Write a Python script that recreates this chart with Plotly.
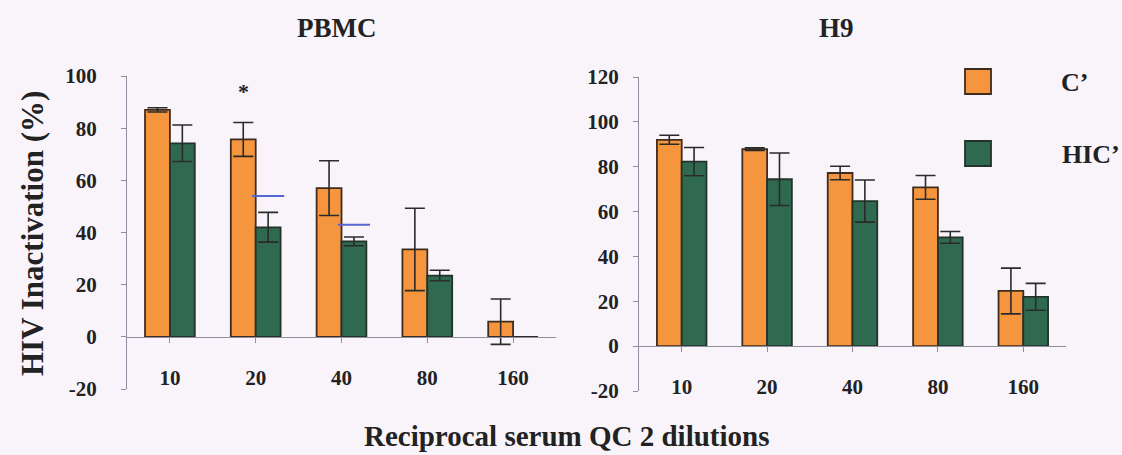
import plotly.graph_objects as go

# Reciprocal serum dilutions (categories)
dilutions = ["10", "20", "40", "80", "160"]

# PBMC: HIV inactivation (%) with standard errors
pbmc_c = [87, 75.7, 57, 33.5, 5.8]
pbmc_c_err = [0.8, 6.5, 10.5, 15.8, 8.7]
pbmc_hic = [74.2, 42, 36.6, 23.5, 0]
pbmc_hic_err = [7, 5.7, 1.7, 2, 0]

# H9: HIV inactivation (%) with standard errors
h9_c = [92, 87.8, 77.2, 70.8, 24.6]
h9_c_err = [2, 0.6, 3, 5.3, 10.2]
h9_hic = [82.3, 74.4, 64.7, 48.5, 22]
h9_hic_err = [6.3, 11.7, 9.4, 2.6, 6]

# y-axis ticks for each panel
pbmc_yticks = [-20, 0, 20, 40, 60, 80, 100]
h9_yticks = [-20, 0, 20, 40, 60, 80, 100, 120]

# Reference markers over the PBMC HIC' bars at dilutions 20 and 40
pbmc_marks_idx = [1, 2]
pbmc_marks_val = [54, 43]

# Significance marker on PBMC C' at dilution 20
star_idx = 1
star_val = 94

ORANGE = "#f5963f"
GREEN = "#2f6a50"
ORANGE_EDGE = "#3f2c1e"
GREEN_EDGE = "#23332b"
ERR = "#2a2a2a"
AXIS = "#8e8e9e"
TEXT = "#222222"
BG = "#f9f4fa"
FONT = "Liberation Serif"

BARGAP = 0.42
half_bar = (1 - BARGAP) / 4  # offset from category centre to each bar centre

xs = list(range(len(dilutions)))

fig = go.Figure()


def add_pair(c_vals, c_err, h_vals, h_err, xa, ya):
    fig.add_trace(go.Bar(
        x=xs, y=c_vals, name="C’", xaxis=xa, yaxis=ya,
        offsetgroup="c", marker=dict(color=ORANGE, line=dict(color=ORANGE_EDGE, width=1.8)),
        error_y=dict(type="data", array=c_err, visible=True, color=ERR, thickness=1.6, width=10),
        showlegend=False,
    ))
    fig.add_trace(go.Bar(
        x=xs, y=h_vals, name="HIC’", xaxis=xa, yaxis=ya,
        offsetgroup="h", marker=dict(color=GREEN, line=dict(color=GREEN_EDGE, width=1.8)),
        error_y=dict(type="data", array=h_err, visible=True, color=ERR, thickness=1.6, width=10),
        showlegend=False,
    ))


add_pair(pbmc_c, pbmc_c_err, pbmc_hic, pbmc_hic_err, "x", "y")
add_pair(h9_c, h9_c_err, h9_hic, h9_hic_err, "x2", "y2")

# short blue reference ticks above the HIC' bars
fig.add_trace(go.Scatter(
    x=[i + half_bar for i in pbmc_marks_idx], y=pbmc_marks_val,
    mode="markers", xaxis="x", yaxis="y", showlegend=False,
    marker=dict(symbol="line-ew", size=23, line=dict(color="#5566d4", width=2)),
))

# panel geometry (paper coordinates)
W, H = 1122, 455
L_DOM_X = [127 / W, 556 / W]
R_DOM_X = [639 / W, 1066 / W]
L_DOM_Y = [1 - 389 / H, 1 - 76 / H]
R_DOM_Y = [1 - 391 / H, 1 - 77 / H]
L_RANGE = [-20, 100]
R_RANGE = [-20, 120]


def zero_pos(dom, rng):
    return dom[0] + (0 - rng[0]) / (rng[1] - rng[0]) * (dom[1] - dom[0])


tickfont = dict(family=FONT, size=21, color=TEXT, weight="bold")

xaxis_common = dict(
    range=[-0.5, len(dilutions) - 0.5], tickmode="array", tickvals=xs, ticktext=dilutions,
    showline=True, linecolor=AXIS, linewidth=1, ticks="outside", ticklen=5,
    tickcolor=AXIS, showgrid=False, zeroline=False, tickfont=tickfont,
    ticklabelstandoff=17, anchor="free", automargin=False,
)
yaxis_common = dict(
    tickmode="array", showline=True, linecolor=AXIS, linewidth=1, ticks="outside", ticklen=5,
    tickcolor=AXIS, showgrid=False, zeroline=False, tickfont=tickfont, automargin=False,
)

fig.update_layout(
    width=W, height=H,
    margin=dict(l=0, r=0, t=0, b=0, pad=0, autoexpand=False),
    paper_bgcolor=BG, plot_bgcolor=BG,
    barmode="group", bargap=BARGAP, bargroupgap=0,
    xaxis=dict(domain=L_DOM_X, position=zero_pos(L_DOM_Y, L_RANGE), **xaxis_common),
    xaxis2=dict(domain=R_DOM_X, position=zero_pos(R_DOM_Y, R_RANGE), **xaxis_common),
    yaxis=dict(domain=L_DOM_Y, range=L_RANGE, anchor="x", ticklabelstandoff=20,
               tickvals=pbmc_yticks, ticktext=[str(v) for v in pbmc_yticks], **yaxis_common),
    yaxis2=dict(domain=R_DOM_Y, range=R_RANGE, anchor="x2", ticklabelstandoff=10,
                tickvals=h9_yticks, ticktext=[str(v) for v in h9_yticks], **yaxis_common),
    font=dict(family=FONT, color=TEXT),
)

bold = lambda s: f"<b>{s}</b>"


def label(text, x, y, size, **kw):
    base = dict(text=bold(text), x=x, y=y, xref="paper", yref="paper", showarrow=False,
                xanchor="center", yanchor="middle",
                font=dict(size=size, family=FONT, color=TEXT))
    base.update(kw)
    return base


annotations = [
    label("PBMC", 336 / W, 1 - 28 / H, 27),
    label("H9", 836 / W, 1 - 28 / H, 27),
    label("HIV Inactivation (%)", 33 / W, 1 - 234 / H, 31, textangle=-90),
    label("Reciprocal serum QC 2 dilutions", 566 / W, 1 - 436 / H, 29),
    label("C’", 1059 / W, 1 - 82 / H, 26, xanchor="left"),
    label("HIC’", 1060 / W, 1 - 154 / H, 26, xanchor="left"),
    dict(text=bold("*"), x=star_idx - half_bar, y=star_val, xref="x", yref="y",
         xanchor="center", yanchor="middle", showarrow=False,
         font=dict(size=22, family=FONT, color=TEXT)),
]
fig.update_layout(annotations=annotations)

# legend swatches
shapes = [
    dict(type="rect", xref="paper", yref="paper", x0=965 / W, x1=991 / W,
         y0=1 - 94 / H, y1=1 - 69 / H, fillcolor=ORANGE, line=dict(color=ORANGE_EDGE, width=1.8)),
    dict(type="rect", xref="paper", yref="paper", x0=965 / W, x1=991 / W,
         y0=1 - 166 / H, y1=1 - 141 / H, fillcolor=GREEN, line=dict(color=GREEN_EDGE, width=1.8)),
]
fig.update_layout(shapes=shapes)

fig.write_html("out.html")
